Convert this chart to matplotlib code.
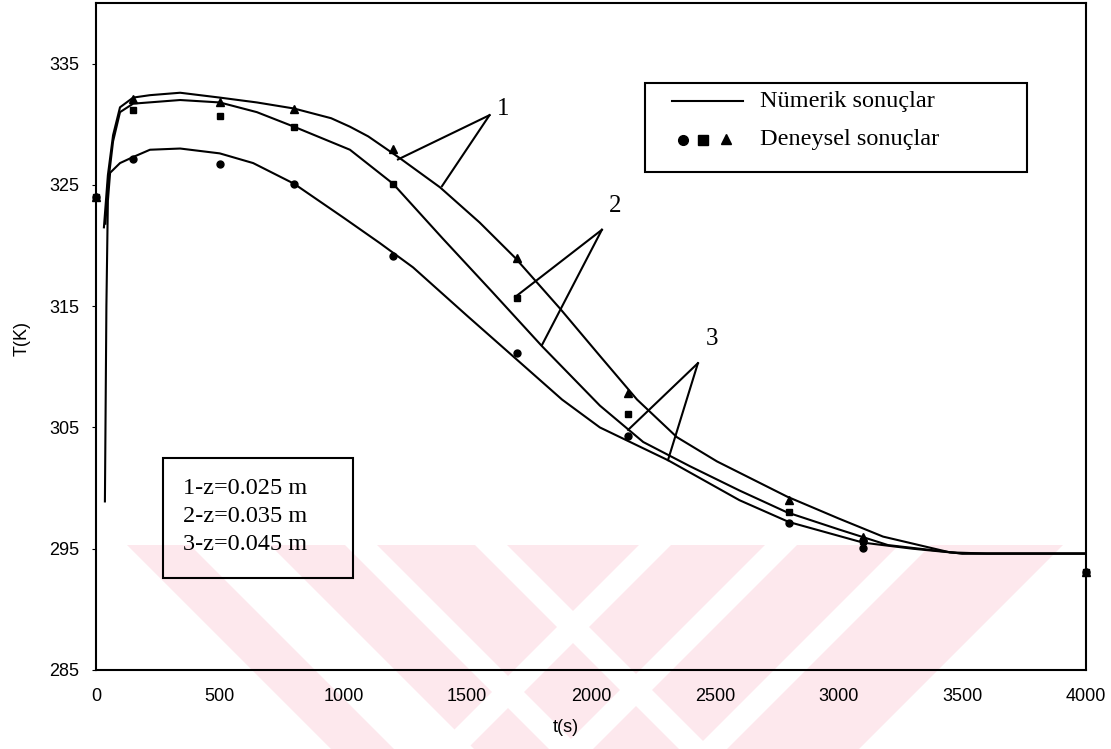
import matplotlib
matplotlib.use("Agg")
import matplotlib.pyplot as plt
from matplotlib.patches import Polygon, Rectangle

# ---- numerical results (time in s, temperature in K) ----
t_num1 = [32, 48, 69, 97, 150, 218, 340, 500, 650, 800, 950, 1026, 1100, 1228,
          1390, 1550, 1693, 1875, 2036, 2186, 2347, 2509, 2792, 3000, 3180, 3450,
          3600, 4000]
T_num1 = [321.5, 325.8, 329.1, 331.4, 332.2, 332.4, 332.6, 332.2, 331.8, 331.3,
          330.5, 329.8, 329.0, 327.2, 324.8, 321.9, 319.0, 314.8, 310.9, 307.3,
          304.2, 302.2, 299.3, 297.5, 296.0, 294.7, 294.6, 294.6]

t_num2 = [38, 48, 69, 97, 150, 340, 500, 650, 800, 1026, 1200, 1400, 1600, 1802,
          2036, 2211, 2400, 2600, 2792, 3000, 3200, 3500, 4000]
T_num2 = [321.8, 325.0, 328.6, 331.0, 331.7, 332.0, 331.8, 331.0, 329.8, 327.9,
          325.1, 320.6, 316.2, 311.7, 306.8, 303.8, 301.8, 299.8, 298.0, 296.6,
          295.3, 294.6, 294.6]

t_num3 = [36, 42, 48, 57, 97, 150, 218, 340, 500, 635, 800, 1000, 1147, 1281,
          1500, 1700, 1883, 2036, 2311, 2600, 2800, 3100, 3300, 3500, 4000]
T_num3 = [298.9, 315.0, 323.7, 326.0, 326.8, 327.3, 327.9, 328.0, 327.6, 326.8,
          325.1, 322.3, 320.2, 318.2, 314.2, 310.6, 307.3, 305.0, 302.3, 299.0,
          297.2, 295.5, 295.0, 294.6, 294.6]

# ---- experimental results ----
t_exp = [0, 150, 500, 800, 1200, 1700, 2150, 2800, 3100, 4000]
T_exp1 = [324.0, 332.1, 331.8, 331.3, 328.0, 319.0, 307.8, 299.0, 296.0, 293.1]  # z=0.025 m
T_exp2 = [324.0, 331.2, 330.7, 329.8, 325.1, 315.7, 306.1, 298.0, 295.6, 293.1]  # z=0.035 m
T_exp3 = [324.0, 327.1, 326.7, 325.1, 319.1, 311.1, 304.3, 297.1, 295.1, 293.1]  # z=0.045 m

x_ticks = [0, 500, 1000, 1500, 2000, 2500, 3000, 3500, 4000]
y_ticks = [285, 295, 305, 315, 325, 335]

W, H = 1111, 749
fig = plt.figure(figsize=(W / 100, H / 100), dpi=100)
fig.patch.set_facecolor("white")

# background layer in pixel units for the faint stamp
bg = fig.add_axes([0, 0, 1, 1], zorder=0)
bg.set_xlim(0, W)
bg.set_ylim(H, 0)
bg.axis("off")
pink = "#fde8ed"
y0, y1 = 545, 749
def band_left(c0, c1):
    # stripe running down-right: x - y between c0 and c1
    return [(c0 + y0, y0), (c1 + y0, y0), (c1 + y1, y1), (c0 + y1, y1)]
def band_right(c0, c1):
    # stripe running down-left: x + y between c0 and c1
    return [(c0 - y0, y0), (c1 - y0, y0), (c1 - y1, y1), (c0 - y1, y1)]
outer = [(127, y0), (1063, y0), (1608 - y1, y1), (y1 - 418, y1)]
bg.add_patch(Polygon(outer, closed=True, facecolor=pink, edgecolor="none"))
for c0, c1 in [(-355, -275), (-200, -168), (-70, -38)]:
    bg.add_patch(Polygon(band_left(c0, c1), closed=True, facecolor="white", edgecolor="none"))
for c0, c1 in [(1184, 1216), (1310, 1342), (1444, 1476)]:
    bg.add_patch(Polygon(band_right(c0, c1), closed=True, facecolor="white", edgecolor="none"))

ax = fig.add_axes([96 / W, 1 - 670 / H, 990 / W, 667 / H], zorder=1)
ax.set_facecolor("none")
ax.set_xlim(0, 4000)
ax.set_ylim(285, 340)

lw = 1.5
for t, T in [(t_num1, T_num1), (t_num2, T_num2), (t_num3, T_num3)]:
    ax.plot(t, T, color="black", lw=lw, solid_joinstyle="round")

ax.plot(t_exp, T_exp3, ls="none", marker="o", ms=5.0, color="black", clip_on=False)
ax.plot(t_exp, T_exp2, ls="none", marker="s", ms=5.0, color="black", clip_on=False)
ax.plot(t_exp, T_exp1, ls="none", marker="^", ms=5.5, color="black", clip_on=False)

for side in ax.spines.values():
    side.set_linewidth(1.5)

ax.set_xticks(x_ticks)
ax.set_yticks(y_ticks)
ax.tick_params(axis="x", length=0, pad=13, labelsize=13)
ax.tick_params(axis="y", length=3, width=0.8, pad=9, labelsize=13)
for lab in ax.get_xticklabels() + ax.get_yticklabels():
    lab.set_fontfamily("Liberation Sans")

fig.text(22 / W, 1 - 338 / H, "T(K)", rotation=90, ha="center", va="center",
         fontsize=13, family="Liberation Sans")
fig.text(566 / W, 1 - 727 / H, "t(s)", ha="center", va="center",
         fontsize=13, family="Liberation Sans")

serif = "Liberation Serif"
# curve labels with pointer lines
pointers = [
    ("1", (1590, 330.75), [(1220, 327.1), (1398, 324.9)], (1620, 331.3)),
    ("2", (2044, 321.3), [(1693, 315.75), (1802, 311.8)], (2072, 323.3)),
    ("3", (2432, 310.3), [(2150, 304.8), (2311, 302.3)], (2465, 312.3)),
]
for lab, apex, ends, pos in pointers:
    for e in ends:
        ax.plot([apex[0], e[0]], [apex[1], e[1]], color="black", lw=1.5)
    ax.text(pos[0], pos[1], lab, fontsize=18, family=serif, ha="left", va="center")

# legend box (pixel layout on the background layer)
bg.add_patch(Rectangle((645, 83), 382, 89, facecolor="none", edgecolor="black", lw=1.5, zorder=3))
bg.plot([672, 743], [101, 101], color="black", lw=1.5, zorder=3)
bg.plot([683], [140], marker="o", ms=7, color="black", zorder=3)
bg.plot([703], [140], marker="s", ms=6.5, color="black", zorder=3)
bg.plot([726], [139], marker="^", ms=7, color="black", zorder=3)
bg.text(760, 101, "Nümerik sonuçlar", fontsize=17.5, family=serif, va="center", zorder=3)
bg.text(760, 140, "Deneysel sonuçlar", fontsize=17.5, family=serif, va="center", zorder=3)

# depth box
bg.add_patch(Rectangle((163, 458), 190, 120, facecolor="none", edgecolor="black", lw=1.5, zorder=3))
for i, s in enumerate(["1-z=0.025 m", "2-z=0.035 m", "3-z=0.045 m"]):
    bg.text(183, 488 + 28.5 * i, s, fontsize=17.5, family=serif, va="center", zorder=3)

fig.savefig("out.png", dpi=100)
